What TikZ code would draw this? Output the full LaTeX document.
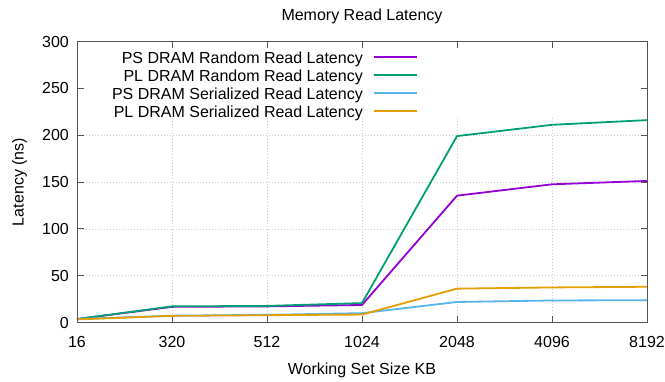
\documentclass[tikz,border=0pt]{standalone}
\usepackage{fontspec}
\setmainfont{Liberation Sans}
\definecolor{cpurple}{HTML}{9400D3}
\definecolor{cgreen}{HTML}{009E73}
\definecolor{cblue}{HTML}{56B4E9}
\definecolor{corange}{HTML}{E69F00}
\definecolor{cborder}{HTML}{555555}
\definecolor{cgrid}{HTML}{C8C8C8}
\tikzset{
  lbl/.style={font=\fontsize{16bp}{19bp}\selectfont, inner sep=0pt},
  series/.style={line width=1.8bp, line join=round},
  gridline/.style={cgrid, line width=0.8bp, dash pattern=on 1bp off 2bp},
  frame/.style={cborder, line width=1bp},
  keysample/.style={minimum width=42.7bp, minimum height=1.9bp, inner sep=0pt, outer sep=0pt, draw=none, anchor=west},
}
\begin{document}
\begin{tikzpicture}[x=1bp,y=-1bp]
\useasboundingbox (0,0) rectangle (665,381);
% grid (hidden behind the key area above y=118)
\begin{scope}
  \clip (77,118) rectangle (647,322.8);
  \foreach \i in {1,...,5} \draw[gridline] (77+95*\i,322.8) -- (77+95*\i,41.3);
  \foreach \v in {50,100,...,250} \draw[gridline] (77,322.8-0.93833*\v) -- (647,322.8-0.93833*\v);
\end{scope}
% ticks
\foreach \i in {1,...,5} {
  \draw[frame] (77+95*\i,322.8) -- (77+95*\i,316.3);
  \draw[frame] (77+95*\i,41.3) -- (77+95*\i,47.8);
}
\foreach \v in {50,100,...,250} {
  \draw[frame] (77,322.8-0.93833*\v) -- (83.5,322.8-0.93833*\v);
  \draw[frame] (647,322.8-0.93833*\v) -- (640.5,322.8-0.93833*\v);
}
% key samples
\node[keysample, fill=cpurple] (s1) at (374,57.3) {};
\node[keysample, fill=cgreen] (s2) at (374,75.3) {};
\node[keysample, fill=cblue] (s3) at (374,93.3) {};
\node[keysample, fill=corange] (s4) at (374,111.1) {};
% data
\begin{scope}[shift={(77,322.8)}, x=95bp, y=0.93833bp]
  \draw[series, cpurple] plot coordinates {(0,4) (1,17) (2,17.5) (3,19) (4,135.5) (5,147.6) (6,151.2)};
  \draw[series, cgreen] plot coordinates {(0,4) (1,17.5) (2,18) (3,21) (4,199) (5,211) (6,216)};
  \draw[series, cblue] plot coordinates {(0,4) (1,7.6) (2,8.5) (3,10.3) (4,22.2) (5,23.8) (6,24.1)};
  \draw[series, corange] plot coordinates {(0,3.6) (1,7.4) (2,8.1) (3,8.8) (4,36.4) (5,37.7) (6,38.4)};
\end{scope}
% border
\draw[frame] (77,41.3) rectangle (647,322.8);
% tick labels
\foreach \v in {0,50,...,300}
  \node[lbl, anchor=base east] (yl\v) at (69,322.8-0.93833*\v+5.75) {\v};
\foreach \t [count=\i from 0] in {16,320,512,1024,2048,4096,8192}
  \node[lbl, anchor=base] (xl\t) at (77+95*\i,347) {\t};
% axis labels and title
\node[lbl, anchor=base] (title) at (362,20.8) {Memory Read Latency};
\node[lbl, anchor=base] (xlabel) at (362,374.3) {Working Set Size KB};
\node[lbl, anchor=base, rotate=90] (ylabel) at (23.5,182) {Latency (ns)};
% key text
\node[lbl, anchor=base east] (k1) at (363,63.3) {PS DRAM Random Read Latency};
\node[lbl, anchor=base east] (k2) at (363,81.3) {PL DRAM Random Read Latency};
\node[lbl, anchor=base east] (k3) at (363,99.3) {PS DRAM Serialized Read Latency};
\node[lbl, anchor=base east] (k4) at (363,117.2) {PL DRAM Serialized Read Latency};
\end{tikzpicture}
\end{document}
